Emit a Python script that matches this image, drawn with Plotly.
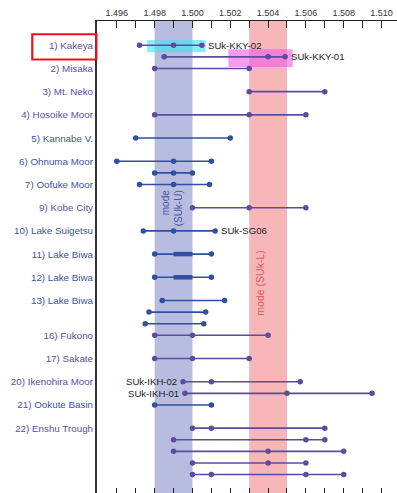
import plotly.graph_objects as go

# ---- data ----
site_labels = ["1) Kakeya", "2) Misaka", "3) Mt. Neko", "4) Hosoike Moor", "5) Kannabe V.",
               "6) Ohnuma Moor", "7) Oofuke Moor", "9) Kobe City", "10) Lake Suigetsu",
               "11) Lake Biwa", "12) Lake Biwa", "13) Lake Biwa", "16) Fukono", "17) Sakate",
               "20) Ikenohira Moor", "21) Ookute Basin", "22) Enshu Trough"]
site_rows = [0, 2, 4, 6, 8, 10, 12, 14, 16, 18, 20, 22, 25, 27, 29, 31, 33]
site_group = ["L", "L", "L", "L", "U", "U", "U", "L", "U", "U", "U", "U", "L", "L", "L", "U", "L"]

sample_rows = [0, 1, 2, 4, 6, 8, 10, 11, 12, 14, 16, 18, 20, 22, 23, 24, 25, 27, 29, 30, 31,
               33, 34, 35, 36, 37]
sample_values = [
    [1.4972, 1.4990, 1.5005],
    [1.4985, 1.5040, 1.5049],
    [1.4980, 1.5030],
    [1.5030, 1.5070],
    [1.4980, 1.5030, 1.5060],
    [1.4970, 1.5020],
    [1.4960, 1.4990, 1.5010],
    [1.4980, 1.4990, 1.5000],
    [1.4972, 1.4990, 1.5009],
    [1.5000, 1.5030, 1.5060],
    [1.4974, 1.4990, 1.5012],
    [1.4980, 1.5010],
    [1.4980, 1.5010],
    [1.4984, 1.5017],
    [1.4977, 1.5007],
    [1.4975, 1.5006],
    [1.4980, 1.5000, 1.5040],
    [1.4980, 1.5000, 1.5030],
    [1.4995, 1.5010, 1.5057],
    [1.4996, 1.5050, 1.5095],
    [1.4980, 1.5010],
    [1.5000, 1.5010, 1.5070],
    [1.4990, 1.5060, 1.5070],
    [1.4990, 1.5040, 1.5080],
    [1.5000, 1.5040, 1.5060],
    [1.5000, 1.5010, 1.5060, 1.5080],
]
sample_group = ["L", "L", "L", "L", "L", "U", "U", "U", "U", "L", "U", "U", "U", "U", "U", "U",
                "L", "L", "L", "L", "U", "L", "L", "L", "L", "L"]

biwa_rows = [18, 20]
biwa_range = [1.4990, 1.5000]

mode_u = [1.498, 1.500]
mode_l = [1.503, 1.505]

named_samples = ["SUk-KKY-02", "SUk-KKY-01", "SUk-SG06", "SUk-IKH-02", "SUk-IKH-01"]
named_rows = [0, 1, 16, 29, 30]
named_side = ["right", "right", "right", "left", "left"]

tick_values = [1.496 + 0.001 * i for i in range(15)]
tick_text = ["%.3f" % v if i % 2 == 0 else "" for i, v in enumerate(tick_values)]

# ---- styles ----
col = {"L": "#5d4b9e", "U": "#2f50a0"}
label_col = {"L": "#5a4f9e", "U": "#3a55a0"}
font_family = "Liberation Sans, Arial, sans-serif"

fig = go.Figure()

for g in ["U", "L"]:
    xs, ys = [], []
    for r, vals, gg in zip(sample_rows, sample_values, sample_group):
        if gg != g:
            continue
        xs += vals + [None]
        ys += [r] * len(vals) + [None]
    fig.add_trace(go.Scatter(x=xs, y=ys, mode="lines+markers",
                             line=dict(color=col[g], width=1.6),
                             marker=dict(color=col[g], size=5.5),
                             hoverinfo="x+y", showlegend=False))

bx, by = [], []
for r in biwa_rows:
    bx += biwa_range + [None]
    by += [r, r, None]
fig.add_trace(go.Scatter(x=bx, y=by, mode="lines", line=dict(color=col["U"], width=4.5),
                         showlegend=False))

# invisible trace on the bottom axis so it is drawn
fig.add_trace(go.Scatter(x=[tick_values[0]], y=[0], xaxis="x2", mode="markers",
                         marker=dict(opacity=0), showlegend=False, hoverinfo="skip"))

shapes = [
    dict(type="rect", xref="x", yref="paper", x0=mode_u[0], x1=mode_u[1], y0=0, y1=1,
         fillcolor="#b8bce0", line=dict(width=0), layer="below"),
    dict(type="rect", xref="x", yref="paper", x0=mode_l[0], x1=mode_l[1], y0=0, y1=1,
         fillcolor="#f7b6b8", line=dict(width=0), layer="below"),
    dict(type="rect", xref="x", yref="y", x0=1.4976, x1=1.5007, y0=-0.45, y1=0.6,
         fillcolor="rgba(70,225,240,0.62)", line=dict(width=0), layer="below"),
    dict(type="rect", xref="x", yref="y", x0=1.5019, x1=1.5053, y0=0.34, y1=1.87,
         fillcolor="rgba(240,90,230,0.6)", line=dict(width=0), layer="below"),
    dict(type="rect", xref="paper", yref="y", x0=-0.2157, x1=-0.002, y0=-0.95, y1=1.23,
         fillcolor="rgba(0,0,0,0)", line=dict(color="#e8141c", width=2.2), layer="above"),
]

annotations = []
for name, r, side in zip(named_samples, named_rows, named_side):
    vals = sample_values[sample_rows.index(r)]
    if side == "right":
        annotations.append(dict(x=vals[-1], y=r, text=name, showarrow=False, xanchor="left",
                                xshift=4, font=dict(size=9.6, color="#222", family=font_family)))
    else:
        annotations.append(dict(x=vals[0], y=r, text=name, showarrow=False, xanchor="right",
                                xshift=-4, font=dict(size=9.6, color="#222", family=font_family)))

annotations.append(dict(x=(mode_u[0] + mode_u[1]) / 2 - 0.0001, y=14.0, text="mode<br>(SUk-U)",
                        textangle=-90, showarrow=False, align="right",
                        font=dict(size=10, color="#4a58a2", family=font_family)))
annotations.append(dict(x=(mode_l[0] + mode_l[1]) / 2 - 0.0004, y=20.5, text="mode (SUk-L)",
                        textangle=-90, showarrow=False,
                        font=dict(size=10.5, color="#e05a64", family=font_family)))

ticktext_y = ['<span style="color:%s">%s</span>' % (label_col[g], s)
              for s, g in zip(site_labels, site_group)]

xr = [1.49495, 1.51082]
fig.update_layout(
    width=397, height=493,
    margin=dict(l=97, r=0, t=21, b=0),
    paper_bgcolor="white", plot_bgcolor="white",
    font=dict(family=font_family),
    hovermode=False,
    xaxis=dict(side="top", range=xr, tickvals=tick_values, ticktext=tick_text,
               ticks="inside", ticklen=7, tickcolor="#222", tickwidth=1,
               showline=True, linecolor="#222", linewidth=1.5, showgrid=False, zeroline=False,
               tickfont=dict(size=9, color="#333")),
    xaxis2=dict(overlaying="x", side="bottom", anchor="y", range=xr, tickvals=tick_values,
                ticks="inside", ticklen=5, tickcolor="#222", showticklabels=False,
                showline=False, showgrid=False, zeroline=False),
    yaxis=dict(range=[38.59, -2.09], tickvals=site_rows, ticktext=ticktext_y, ticks="",
               showline=True, linecolor="#333", linewidth=2, showgrid=False, zeroline=False,
               tickfont=dict(size=9.8)),
    shapes=shapes,
    annotations=annotations,
)

fig.write_html(
    "out.html",
    config={"displayModeBar": False, "staticPlot": True},
    post_script="document.documentElement.style.overflow='hidden';"
                "document.body.style.margin='0';document.body.style.overflow='hidden';",
)
